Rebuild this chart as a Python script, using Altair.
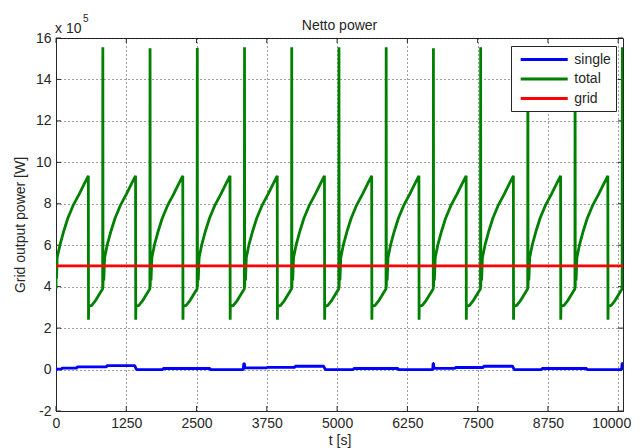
import altair as alt
import pandas as pd

# ---------------- text ----------------
TITLE = "Netto power"
X_TITLE = "t [s]"
Y_TITLE = "Grid output power [W]"
EXP_BASE = "x 10"
EXP_POWER = "5"

# ---------------- series / axis setup ----------------
SERIES = ["single", "total", "grid"]
COLORS = ["#0000ff", "#008000", "#ff0000"]
X_TICKS = [0, 1250, 2500, 3750, 5000, 6250, 7500, 8750, 10000]
Y_TICKS = [-2, 0, 2, 4, 6, 8, 10, 12, 14, 16]      # in units of 10^5 W
X_MAX = 10085
Y_MIN, Y_MAX = -2, 16

# ---------------- data (power in units of 10^5 W) ----------------
single_t = [0, 100, 105, 370, 375, 900, 905, 1400, 1430, 1900, 1905, 2740, 2745,
            3330, 3340, 3350, 3360, 3750, 3755, 4250, 4255, 4760, 4790, 5290, 5295,
            6085, 6090, 6700, 6708, 6715, 6722, 7100, 7105, 7600, 7605, 8120, 8150,
            8640, 8645, 9440, 9445, 10060, 10068, 10082]
single_p = [0.02, 0.02, 0.07, 0.07, 0.13, 0.13, 0.19, 0.19, 0.0, 0.0, 0.05, 0.05, 0.0,
            0.0, 0.29, 0.29, 0.08, 0.08, 0.11, 0.11, 0.16, 0.16, 0.0, 0.0, 0.05,
            0.05, 0.0, 0.0, 0.3, 0.3, 0.06, 0.06, 0.1, 0.1, 0.16, 0.16, 0.0,
            0.0, 0.05, 0.05, 0.0, 0.0, 0.3, 0.3]

total_t = [
    0, 3, 10, 20, 70, 140, 210, 310, 410, 500,
    575, 578, 581, 635, 695, 830, 833, 836, 842, 850, 865, 910, 980, 1050, 1150, 1250, 1340,
    1415, 1418, 1421, 1475, 1535, 1670, 1673, 1676, 1682, 1690, 1705, 1750, 1820, 1890, 1990, 2090, 2180,
    2255, 2258, 2261, 2315, 2375, 2510, 2513, 2516, 2522, 2530, 2545, 2590, 2660, 2730, 2830, 2930, 3020,
    3095, 3098, 3101, 3155, 3215, 3350, 3353, 3356, 3362, 3370, 3385, 3430, 3500, 3570, 3670, 3770, 3860,
    3935, 3938, 3941, 3995, 4055, 4190, 4193, 4196, 4202, 4210, 4225, 4270, 4340, 4410, 4510, 4610, 4700,
    4775, 4778, 4781, 4835, 4895, 5030, 5033, 5036, 5042, 5050, 5065, 5110, 5180, 5250, 5350, 5450, 5540,
    5615, 5618, 5621, 5675, 5735, 5870, 5873, 5876, 5882, 5890, 5905, 5950, 6020, 6090, 6190, 6290, 6380,
    6455, 6458, 6461, 6515, 6575, 6710, 6713, 6716, 6722, 6730, 6745, 6790, 6860, 6930, 7030, 7130, 7220,
    7295, 7298, 7301, 7355, 7415, 7550, 7553, 7556, 7562, 7570, 7585, 7630, 7700, 7770, 7870, 7970, 8060,
    8135, 8138, 8141, 8195, 8255, 8390, 8393, 8396, 8402, 8410, 8425, 8470, 8540, 8610, 8710, 8810, 8900,
    8975, 8978, 8981, 9035, 9095, 9230, 9233, 9236, 9242, 9250, 9265, 9310, 9380, 9450, 9550, 9650, 9740,
    9815, 9818, 9821, 9875, 9935, 10070, 10073, 10076, 10082,
]
total_p = [
    3.9, 5.0, 4.4, 5.4, 6.0, 6.7, 7.3, 7.95, 8.45, 8.95,
    9.35, 2.4, 3.05, 3.1, 3.3, 3.9, 15.55, 4.0, 5.5, 4.3, 5.4, 6.0, 6.7, 7.3, 7.95, 8.45, 8.95,
    9.35, 2.4, 3.05, 3.1, 3.3, 3.9, 15.5, 4.0, 5.5, 4.3, 5.4, 6.0, 6.7, 7.3, 7.95, 8.45, 8.95,
    9.35, 2.4, 3.05, 3.1, 3.3, 3.9, 15.52, 4.0, 5.5, 4.3, 5.4, 6.0, 6.7, 7.3, 7.95, 8.45, 8.95,
    9.35, 2.4, 3.05, 3.1, 3.3, 3.9, 15.55, 4.0, 5.5, 4.3, 5.4, 6.0, 6.7, 7.3, 7.95, 8.45, 8.95,
    9.35, 2.4, 3.05, 3.1, 3.3, 3.9, 15.55, 4.0, 5.5, 4.3, 5.4, 6.0, 6.7, 7.3, 7.95, 8.45, 8.95,
    9.35, 2.4, 3.05, 3.1, 3.3, 3.9, 15.55, 4.0, 5.5, 4.3, 5.4, 6.0, 6.7, 7.3, 7.95, 8.45, 8.95,
    9.35, 2.4, 3.05, 3.1, 3.3, 3.9, 15.55, 4.0, 5.5, 4.3, 5.4, 6.0, 6.7, 7.3, 7.95, 8.45, 8.95,
    9.35, 2.4, 3.05, 3.1, 3.3, 3.9, 15.5, 4.0, 5.5, 4.3, 5.4, 6.0, 6.7, 7.3, 7.95, 8.45, 8.95,
    9.35, 2.4, 3.05, 3.1, 3.3, 3.9, 15.55, 4.0, 5.5, 4.3, 5.4, 6.0, 6.7, 7.3, 7.95, 8.45, 8.95,
    9.35, 2.4, 3.05, 3.1, 3.3, 3.9, 15.55, 4.0, 5.5, 4.3, 5.4, 6.0, 6.7, 7.3, 7.95, 8.45, 8.95,
    9.35, 2.4, 3.05, 3.1, 3.3, 3.9, 15.55, 4.0, 5.5, 4.3, 5.4, 6.0, 6.7, 7.3, 7.95, 8.45, 8.95,
    9.35, 2.4, 3.05, 3.1, 3.3, 3.9, 15.55, 4.0, 5.2,
]

grid_t = [0, X_MAX]
grid_p = [5.0, 5.0]

# ---------------- tables ----------------
def table(name, t, p):
    return pd.DataFrame({"series": name, "t": t, "p": p, "i": range(len(t))})

df = pd.concat([table("single", single_t, single_p),
                table("total", total_t, total_p),
                table("grid", grid_t, grid_p)], ignore_index=True)

W, H = 567, 373
FONT = "Liberation Sans"
INK = "#262626"

x_scale = alt.Scale(domain=[0, X_MAX], nice=False, zero=False)
y_scale = alt.Scale(domain=[Y_MIN, Y_MAX], nice=False, zero=False)

plain = "'' + datum.value"
x_axis = alt.Axis(values=X_TICKS, title=X_TITLE, grid=True, ticks=False,
                  labelExpr=plain, labelFlush=False, labelOverlap=False,
                  labelOffset={"condition": {"test": "datum.value >= 10000", "value": -7},
                               "value": 0},
                  labelPadding=5, titlePadding=3)
y_axis = alt.Axis(values=Y_TICKS, title=Y_TITLE, grid=True, ticks=False,
                  labelExpr=plain, labelOverlap=False, labelPadding=5, titlePadding=8)

X = lambda f: alt.X(f, scale=x_scale, axis=x_axis)
Y = lambda f: alt.Y(f, scale=y_scale, axis=y_axis)

color = alt.Color("series:N", scale=alt.Scale(domain=SERIES, range=COLORS),
                  legend=alt.Legend(title=None, orient="none", legendX=455, legendY=8,
                                    direction="vertical",
                                    symbolType="M-3.36,0H3.36", symbolSize=196,
                                    symbolStrokeWidth=3, symbolOffset=19.7,
                                    labelFontSize=14, labelFont=FONT, labelColor=INK,
                                    labelOffset=21.6, padding=5, rowPadding=3.5,
                                    strokeColor=INK, fillColor="white", cornerRadius=0))

base = alt.Chart(df)

def series_layer(name):
    return base.transform_filter(alt.datum.series == name).mark_line(
        strokeWidth=2.8, strokeJoin="bevel", clip=True).encode(
        x=X("t:Q"), y=Y("p:Q"), color=color, order=alt.Order("i:Q"))

lines = [series_layer(s) for s in SERIES]

xt = pd.DataFrame({"t": X_TICKS})
yt = pd.DataFrame({"p": Y_TICKS})
tick_style = dict(color=INK, strokeWidth=1)
ticks = [
    alt.Chart(xt).mark_rule(**tick_style).encode(x=X("t:Q"), y=alt.value(H - 5), y2=alt.value(H)),
    alt.Chart(xt).mark_rule(**tick_style).encode(x=X("t:Q"), y=alt.value(0), y2=alt.value(5)),
    alt.Chart(yt).mark_rule(**tick_style).encode(y=Y("p:Q"), x=alt.value(0), x2=alt.value(5)),
    alt.Chart(yt).mark_rule(**tick_style).encode(y=Y("p:Q"), x=alt.value(W - 5), x2=alt.value(W)),
]

exp_df = pd.DataFrame({"base": [EXP_BASE], "power": [EXP_POWER]})
exp_text = [
    alt.Chart(exp_df).mark_text(align="left", baseline="alphabetic", fontSize=14,
                                font=FONT, color=INK).encode(
        text="base:N", x=alt.value(-1), y=alt.value(-5)),
    alt.Chart(exp_df).mark_text(align="left", baseline="alphabetic", fontSize=10,
                                font=FONT, color=INK).encode(
        text="power:N", x=alt.value(27), y=alt.value(-16)),
]

chart = alt.layer(*ticks, *lines, *exp_text).properties(
    width=W, height=H,
    title=alt.TitleParams(TITLE, fontSize=14, fontWeight="normal", font=FONT,
                          color=INK, offset=-19, frame="group", anchor="middle"),
    autosize=alt.AutoSizeParams(type="none"),
    padding={"left": 48, "top": 30, "right": 9, "bottom": 37},
).configure_axis(
    labelFont=FONT, labelFontSize=14, labelColor=INK,
    titleFont=FONT, titleFontSize=14, titleFontWeight="normal", titleColor=INK,
    domainColor=INK, domainWidth=1,
    gridColor="#000000", gridOpacity=0.75, gridDash=[1, 3], gridWidth=1,
).configure_view(stroke=INK, strokeWidth=1)

chart.save("out.html", embed_options={"renderer": "svg", "actions": False})
